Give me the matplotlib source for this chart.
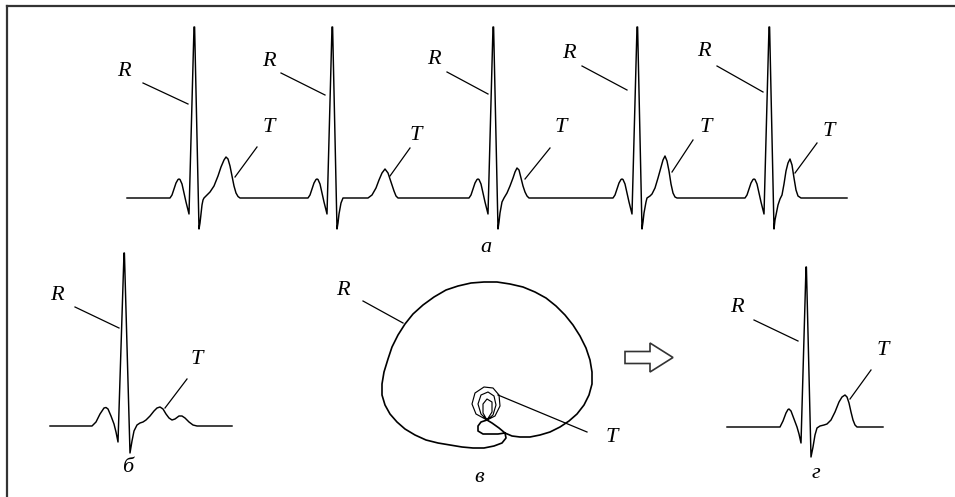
import matplotlib
matplotlib.use('Agg')
import matplotlib.pyplot as plt
from matplotlib.patches import FancyArrow

W, H = 955, 497

# --- panel a: five beats, shared P-QRS template + per-beat ST-T segment ---
r_times = [67, 205, 366, 510, 642]          # R peak times, trace starts at 0
trace_end = 720
pqrs_t = [-24, -22, -20, -18, -16, -15, -14, -12, -10, -8, -6, -5, 0, 0.6, 5]
pqrs_v = [0, 3, 9, 15, 18.5, 19, 18.5, 14, 5, -4, -12, -16, 171, 171, -31]

st_t = [
    [6, 7, 8, 9, 10, 13, 16, 20, 24, 27, 30, 32, 34, 36, 38, 40, 42, 44, 46],
    [6, 7, 9, 11, 36, 40, 44, 47, 50, 53, 56, 59, 62, 64, 66],
    [6, 7, 9, 11, 14, 17, 20, 22, 24, 26, 28, 30, 32, 34, 36],
    [6, 7, 9, 10, 13, 15, 18, 21, 24, 26, 28, 30, 32, 34, 36, 38, 40],
    [6, 8, 9, 11, 13, 15, 17, 19, 21, 23, 25, 27, 29, 32],
]
st_v = [
    [-25, -16, -7, -2, 0, 3, 6, 12, 22, 31, 38, 41, 39, 32, 22, 12, 5, 1.5, 0],
    [-25, -16, -5, 0, 0, 3, 10, 18, 25, 29, 25, 16, 7, 2, 0],
    [-24, -15, -4, 0, 5, 12, 20, 26, 30, 28, 20, 12, 6, 2, 0],
    [-24, -15, -4, 0, 2, 4, 10, 20, 31, 38, 42, 37, 27, 14, 5, 1, 0],
    [-22, -12, -7, -1, 3, 14, 27, 35, 39, 33, 20, 8, 2, 0],
]

# --- panel б: single beat ---
b_t = [-74, -32, -28, -24, -20, -18, -16, -13, -10, -8, -6, 0, 0.4, 6, 8, 10, 13, 16, 19,
       22, 26, 30, 33, 36, 39, 42, 45, 48, 51, 55, 58, 61, 65, 69, 73, 108]
b_v = [0, 0, 4, 12, 18, 18.5, 17, 10, 2, -6, -16, 173, 173, -27, -15, -5, 1, 3, 4,
       6, 10, 15, 18, 19, 17, 12, 8, 6, 7, 10, 10, 8, 4, 1, 0, 0]

# --- panel в: vector loop (QRS loop and T loops) ---
qrs_x = [0, -6, -9, -9, -4, 4, 11, 18, 25, 33, 43, 53, 63, 73, 82, 90, 97, 102, 105, 105,
         103, 99, 93, 86, 78, 69, 59, 48, 36, 23, 10, -3, -16, -29, -41, -53, -64, -74, -82,
         -89, -95, -99, -103, -105, -105, -102, -97, -90, -82, -72, -61, -49, -37, -25, -14,
         -3, 7, 15, 19, 18, 12, 5, 0]
qrs_y = [0, -2, -6, -11, -14, -14, -14, -13, -16, -17, -17, -15, -12, -7, -1, 6, 15, 25, 36, 48,
         60, 72, 84, 95, 105, 114, 122, 128, 133, 136, 138, 138, 137, 134, 130, 123, 115, 106, 96,
         85, 73, 61, 48, 36, 25, 15, 6, -2, -9, -15, -20, -23, -25, -27, -28,
         -28, -26, -23, -18, -13, -8, -3, 0]
tl_x = [0, -11, -15, -12, -3, 6, 12, 13, 8, 0, -6, -9, -6, 1, 7, 9, 6, 0, -4, -4, 0, 5, 5, 0]
tl_y = [0, 6, 16, 27, 33, 32, 25, 14, 4, 0, 6, 16, 25, 28, 24, 15, 5, 0, 7, 16, 21, 18, 8, 0]

# --- panel г: single beat ---
g_t = [-79, -26, -23, -20, -18, -17, -15, -12, -9, -7, -5, 0, 0.4, 5, 7, 9, 11, 14, 18,
       21, 25, 29, 33, 36, 39, 41, 43, 45, 47, 49, 51, 77]
g_v = [0, 0, 6, 14, 17.5, 18, 16, 8, 0, -7, -16, 160, 160, -30, -20, -8, -1, 1, 2,
       3, 7, 15, 25, 30, 32, 30, 24, 15, 7, 2, 0, 0]

fig = plt.figure(figsize=(W / 100, H / 100), dpi=100)
fig.patch.set_facecolor('white')
plt.rcParams['font.family'] = ['Liberation Serif', 'DejaVu Serif']

LW = 1.05
TXT = dict(fontsize=16, style='italic', ha='center', va='center')


def px_axes(left, top, right, bottom, x0, y0):
    # axes where one data unit is one pixel, origin at pixel (x0, y0)
    ax = fig.add_axes([left / W, 1 - bottom / H, (right - left) / W, (bottom - top) / H])
    ax.set_xlim(left - x0, right - x0)
    ax.set_ylim(y0 - bottom, y0 - top)
    ax.axis('off')
    ax.patch.set_visible(False)
    return ax


def label(ax, s, pos, line=None):
    ax.text(pos[0], pos[1], s, **TXT)
    if line is not None:
        ax.plot([line[0], line[2]], [line[1], line[3]], color='black', lw=0.9)


# frame (only top and left edges visible)
frame = fig.add_axes([7 / W, -0.2, 1.2, 1.2 - 6 / H])
frame.set_xticks([])
frame.set_yticks([])
for side in ['right', 'bottom']:
    frame.spines[side].set_visible(False)
for side in ['left', 'top']:
    frame.spines[side].set_linewidth(1.6)
    frame.spines[side].set_color('#333333')

# panel a
ax_a = px_axes(100, 10, 880, 262, 127, 198)
xs, vs = [0], [0]
for r, tt, vv in zip(r_times, st_t, st_v):
    xs += [r + t for t in pqrs_t] + [r + t for t in tt]
    vs += pqrs_v + vv
xs.append(trace_end)
vs.append(0)
ax_a.plot(xs, vs, color='black', lw=LW)

r_text = [(-3, 127), (142, 136), (307, 138), (442, 145), (577, 146)]
r_line = [(16, 115, 61, 94), (154, 125, 198, 103), (320, 126, 361, 104),
          (455, 132, 500, 108), (590, 132, 636, 106)]
t_text = [(142, 70), (289, 63), (434, 71), (579, 70), (702, 67)]
t_line = [(130, 51, 108, 21), (283, 50, 263, 22), (423, 50, 398, 19),
          (566, 58, 545, 26), (690, 55, 668, 25)]
for p, l in zip(r_text, r_line):
    label(ax_a, 'R', p, l)
for p, l in zip(t_text, t_line):
    label(ax_a, 'T', p, l)
label(ax_a, 'а', (359, -49))

# panel б
ax_b = px_axes(30, 240, 260, 495, 124, 426)
ax_b.plot(b_t, b_v, color='black', lw=LW)
label(ax_b, 'R', (-67, 131), (-49, 119, -5, 98))
label(ax_b, 'T', (73, 66), (63, 47, 41, 18))
label(ax_b, 'б', (4, -42))

# panel в
ax_c = px_axes(320, 270, 690, 495, 487, 420)
ax_c.plot(qrs_x, qrs_y, color='black', lw=LW * 1.15)
ax_c.plot(tl_x, tl_y, color='black', lw=LW * 0.8)
label(ax_c, 'R', (-144, 129), (-124, 119, -84, 97))
label(ax_c, 'T', (125, -18), (100, -12, 11, 25))
label(ax_c, 'в', (-8, -58))
ax_c.add_patch(FancyArrow(138, 62.5, 48, 0, width=12, head_width=29, head_length=23,
                          length_includes_head=True, fill=False, ec='#333333', lw=1.2))

# panel г
ax_d = px_axes(700, 250, 910, 495, 806, 427)
ax_d.plot(g_t, g_v, color='black', lw=LW)
label(ax_d, 'R', (-69, 119), (-52, 107, -8, 86))
label(ax_d, 'T', (77, 76), (65, 57, 44, 28))
label(ax_d, 'г', (10, -46))

fig.savefig('out.png', dpi=100)
